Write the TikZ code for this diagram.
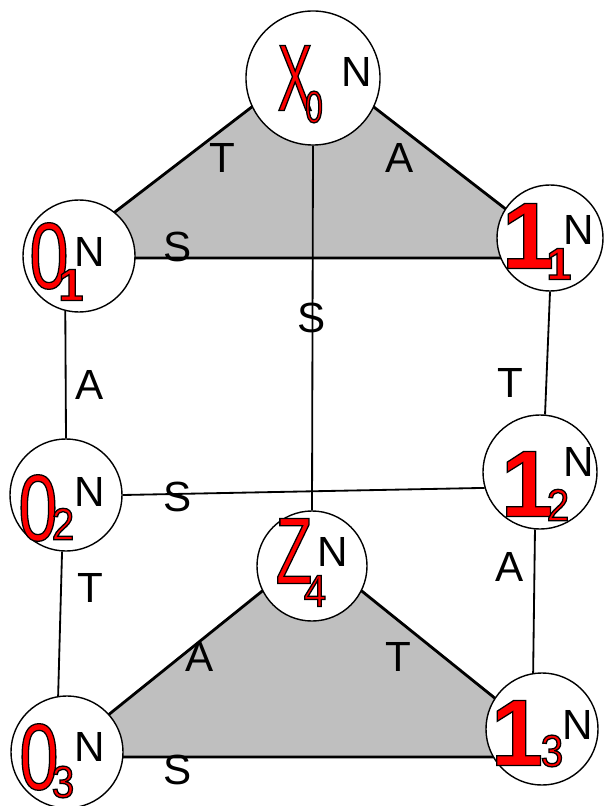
\documentclass[tikz,border=0pt]{standalone}
\usepackage{fontspec}
\setmainfont{Liberation Sans}
\newfontfamily\xfont[FakeStretch=0.55]{Liberation Sans}
\newfontfamily\zfont[FakeStretch=0.63]{Liberation Sans}
\newfontfamily\ofont[FakeStretch=0.75]{Liberation Sans}
\newfontfamily\onefont{Liberation Sans Bold}
\newfontfamily\subfont[FakeStretch=0.9]{Liberation Sans}
\newfontfamily\subnarrow[FakeStretch=0.7]{Liberation Sans}
% red glyphs with a thin black rim
\newcommand\redink[1]{\special{pdf:literal direct 2 Tr 0.9 w 0 G}#1\special{pdf:literal direct 0 Tr}}

\begin{document}
\begin{tikzpicture}[x=0.025cm,y=-0.025cm,
    vtx/.style={circle,draw,fill=white,line width=1pt,inner sep=0pt,
                minimum size=2.8cm},
    tri/.style={draw,fill=black!25,line width=2pt,line join=miter},
    edge/.style={line width=1.3pt},
    lab/.style={inner sep=0pt,font=\fontsize{30}{30}\selectfont},
    big/.style={inner sep=0pt,text=red,font=\fontsize{67}{67}\selectfont},
    sub/.style={inner sep=0pt,text=red,font=\fontsize{32}{32}\selectfont},
  ]
    \useasboundingbox (0,0) rectangle (603,806);
    % shaded faces
    \coordinate (tA) at (313,60);
    \coordinate (tL) at (55,258);
    \coordinate (tR) at (569,258);
    \coordinate (bA) at (312,551);
    \coordinate (bL) at (56,757);
    \coordinate (bR) at (568,757);
    \draw[tri] (tA) -- (tL) -- (tR) -- cycle;
    \draw[tri] (bA) -- (bL) -- (bR) -- cycle;
    % states
    \node[vtx,minimum size=3.35cm] (X0) at (313,78) {};
    \node[vtx] (O1) at (79,256) {};
    \node[vtx,minimum size=2.65cm] (I1) at (550,238) {};
    \node[vtx] (O2) at (66,495) {};
    \node[vtx,minimum size=2.85cm] (I2) at (540,472) {};
    \node[vtx,minimum size=2.75cm] (Z4) at (312,566) {};
    \node[vtx] (O3) at (67,752) {};
    \node[vtx] (I3) at (542,729) {};
    % links
    \draw[edge] (O1.256) -- (O2.north);
    \draw[edge] (I1.south) -- (I2.85);
    \draw[edge] (O2.266) -- (O3.99);
    \draw[edge] (I2.265) -- (I3.99);
    \draw[edge] (O2.east) -- (I2.196);
    \draw[edge] (X0.south) -- (Z4.north);
    % link labels
    \node[lab] (lTa) at (222,158) {T};
    \node[lab] (lAa) at (400,158) {A};
    \node[lab] (lSa) at (178,247) {S};
    \node[lab] (lSb) at (312,318) {S};
    \node[lab] (lAb) at (90,385) {A};
    \node[lab] (lTb) at (510,383) {T};
    \node[lab] (lSc) at (178,497) {S};
    \node[lab] (lTc) at (90,588) {T};
    \node[lab] (lAc) at (510,567) {A};
    \node[lab] (lAd) at (200,657) {A};
    \node[lab] (lTd) at (398,657) {T};
    \node[lab] (lSd) at (178,770) {S};
    % state names
    \node[big] (X0m) at (295,78) {\redink{\xfont X}};
    \node[sub] (X0s) at (314,107) {\redink{\subnarrow 0}};
    \node[lab] (X0n) at (357,72) {N};
    \node[big] (O1m) at (49,256) {\redink{\ofont 0}};
    \node[sub] (O1s) at (71,285) {\redink{\onefont 1}};
    \node[lab] (O1n) at (90,252) {N};
    \node[big] (I1m) at (528,236) {\redink{\onefont 1}};
    \node[sub] (I1s) at (559,264) {\redink{\onefont 1}};
    \node[lab] (I1n) at (579,230) {N};
    \node[big] (O2m) at (38,508) {\redink{\ofont 0}};
    \node[sub] (O2s) at (63,524) {\redink{\subfont 2}};
    \node[lab] (O2n) at (90,492) {N};
    \node[big] (I2m) at (527,484) {\redink{\onefont 1}};
    \node[sub] (I2s) at (558,505) {\redink{\subfont 2}};
    \node[lab] (I2n) at (579,462) {N};
    \node[big] (Z4m) at (294,551) {\redink{\zfont Z}};
    \node[sub] (Z4s) at (315,591) {\redink{\subfont 4}};
    \node[lab] (Z4n) at (333,552) {N};
    \node[big] (O3m) at (39,757) {\redink{\ofont 0}};
    \node[sub] (O3s) at (63,782) {\redink{\subfont 3}};
    \node[lab] (O3n) at (90,747) {N};
    \node[big] (I3m) at (517,733) {\redink{\onefont 1}};
    \node[sub] (I3s) at (552,751) {\redink{\subfont 3}};
    \node[lab] (I3n) at (578,725) {N};
  \end{tikzpicture}
\end{document}
